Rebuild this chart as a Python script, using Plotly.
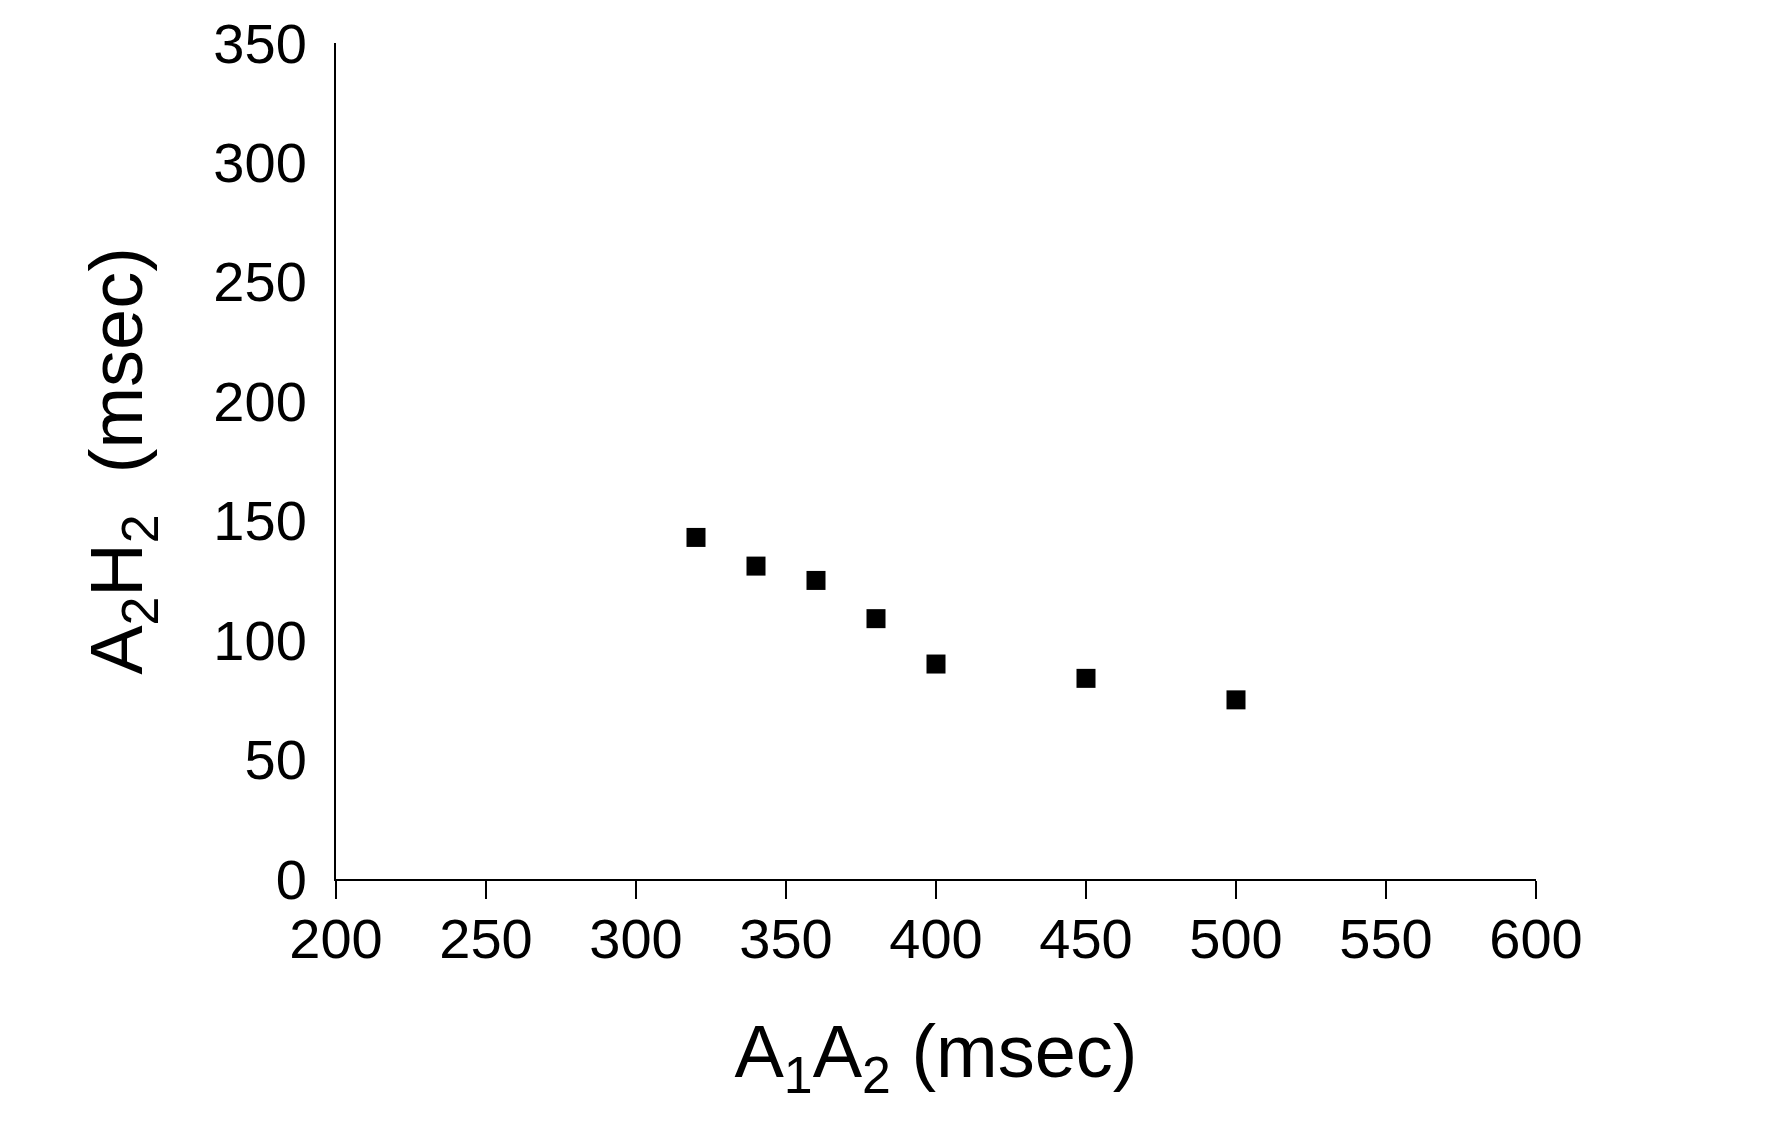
import plotly.graph_objects as go

a1a2_msec = [320, 340, 360, 380, 400, 450, 500]
a2h2_msec = [143, 131, 125, 109, 90, 84, 75]

x_ticks = [200, 250, 300, 350, 400, 450, 500, 550, 600]
y_ticks = [0, 50, 100, 150, 200, 250, 300, 350]

fig = go.Figure()
fig.add_trace(go.Scatter(
    x=a1a2_msec, y=a2h2_msec, mode="markers",
    marker=dict(symbol="square", size=19, color="black", line=dict(width=0)),
    showlegend=False,
))

font_family = "Liberation Sans, Arial, sans-serif"
fig.update_layout(
    width=1752, height=1109,
    margin=dict(l=328, r=224, t=35, b=238, autoexpand=False),
    paper_bgcolor="white", plot_bgcolor="white",
    font=dict(family=font_family, color="black", size=56),
    xaxis=dict(
        range=[200, 600], tickvals=x_ticks, ticktext=[str(v) for v in x_ticks],
        showline=True, linecolor="black", linewidth=2,
        ticks="outside", ticklen=18, tickwidth=2, tickcolor="black",
        showgrid=False, zeroline=False,
        tickfont=dict(size=56),
        ticklabelstandoff=-8,
        title=dict(text="A<sub>1</sub>A<sub>2</sub> (msec)", font=dict(size=74), standoff=56),
        automargin=False,
    ),
    yaxis=dict(
        range=[0, 350], tickvals=y_ticks, ticktext=[str(v) for v in y_ticks],
        showline=True, linecolor="black", linewidth=2,
        ticks="", showgrid=False, zeroline=False,
        tickfont=dict(size=56),
        ticklabelstandoff=16,
        title=dict(text="A<sub>2</sub>H<sub>2</sub>  (msec)", font=dict(size=74), standoff=46),
        automargin=False,
    ),
)

fig.write_html("out.html")
